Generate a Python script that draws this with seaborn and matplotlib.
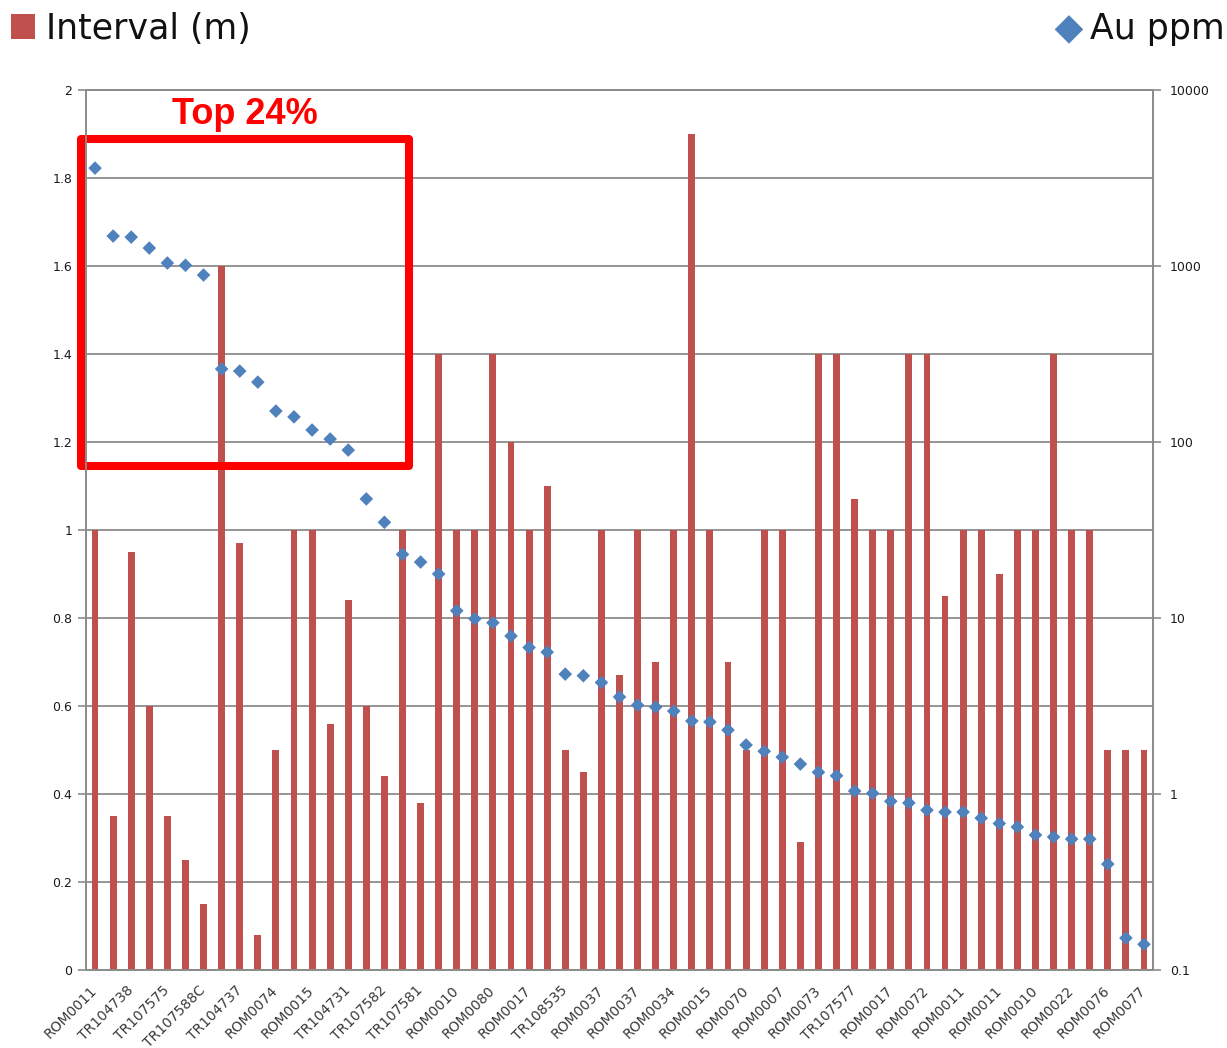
import numpy as np
import pandas as pd
import matplotlib
matplotlib.use("Agg")
import matplotlib.pyplot as plt
from matplotlib.patches import Rectangle
import seaborn as sns

# Drill intervals sorted by Au grade (every other hole ID is labelled on the axis)
tick_labels = [
    "ROM0011", "TR104738", "TR107575", "TR107588C", "TR104737", "ROM0074",
    "ROM0015", "TR104731", "TR107582", "TR107581", "ROM0010", "ROM0080",
    "ROM0017", "TR108535", "ROM0037", "ROM0037", "ROM0034", "ROM0015",
    "ROM0070", "ROM0007", "ROM0073", "TR107577", "ROM0017", "ROM0072",
    "ROM0011", "ROM0011", "ROM0010", "ROM0022", "ROM0076", "ROM0077",
]

interval_m = [
    1.0, 0.35, 0.95, 0.6, 0.35, 0.25, 0.15, 1.6, 0.97, 0.08,
    0.5, 1.0, 1.0, 0.56, 0.84, 0.6, 0.44, 1.0, 0.38, 1.4,
    1.0, 1.0, 1.4, 1.2, 1.0, 1.1, 0.5, 0.45, 1.0, 0.67,
    1.0, 0.7, 1.0, 1.9, 1.0, 0.7, 0.5, 1.0, 1.0, 0.29,
    1.4, 1.4, 1.07, 1.0, 1.0, 1.4, 1.4, 0.85, 1.0, 1.0,
    0.9, 1.0, 1.0, 1.4, 1.0, 1.0, 0.5, 0.5, 0.5,
]

au_ppm = [
    3600, 1480, 1460, 1265, 1040, 1010, 889, 260, 253, 219,
    150, 139, 117, 104, 90, 47.5, 35, 23, 20.8, 17.8,
    11, 9.9, 9.4, 7.9, 6.8, 6.4, 4.8, 4.7, 4.3, 3.56,
    3.2, 3.12, 2.96, 2.6, 2.57, 2.31, 1.9, 1.75, 1.62, 1.48,
    1.33, 1.27, 1.04, 1.01, 0.91, 0.89, 0.81, 0.79, 0.79, 0.73,
    0.68, 0.65, 0.585, 0.57, 0.555, 0.555, 0.40, 0.152, 0.14,
]

left_ticks = [0, 0.2, 0.4, 0.6, 0.8, 1.0, 1.2, 1.4, 1.6, 1.8, 2.0]
right_ticks = [0.1, 1, 10, 100, 1000, 10000]

BAR_RED = "#C0504D"
DIAMOND_BLUE = "#4F81BD"
AXIS_GREY = "#8C8C8C"

df = pd.DataFrame({
    "pos": np.arange(len(interval_m)),
    "interval": interval_m,
    "au": au_ppm,
})

sns.set_theme(style="white")
plt.rcParams["font.family"] = ["DejaVu Sans"]

fig, ax = plt.subplots(figsize=(12.27, 10.48), dpi=100)
fig.subplots_adjust(left=0.0701, right=0.9397, bottom=0.0744, top=0.9141)

# primary axis: interval length bars
sns.barplot(data=df, x="pos", y="interval", color=BAR_RED, saturation=1,
            width=0.38, linewidth=0, ax=ax)
ax.set_ylim(0, 2)
ax.set_xlim(-0.5, len(interval_m) - 0.5)
ax.set_yticks(left_ticks)
ax.set_yticklabels([f"{v:g}" for v in left_ticks])
ax.set_xticks(np.arange(0, len(interval_m), 2))
ax.set_xticklabels(tick_labels, rotation=45, ha="right", va="center",
                   rotation_mode="anchor", fontsize=10, color="#3a3a3a")
ax.set_xticks(np.arange(-0.5, len(interval_m), 1), minor=True)
ax.tick_params(axis="x", which="major", length=0, pad=13)
ax.tick_params(axis="x", which="minor", length=5, width=1.2, color=AXIS_GREY,
               bottom=True)
ax.tick_params(axis="y", length=6, width=1.2, color=AXIS_GREY, labelsize=9,
               left=True, pad=4, labelcolor="#1a1a1a")
ax.yaxis.grid(True, color=AXIS_GREY, lw=1.3)
ax.set_axisbelow(True)
ax.set_xlabel("")
ax.set_ylabel("")

# secondary axis: Au grade on log scale
ax2 = ax.twinx()
sns.scatterplot(data=df, x="pos", y="au", marker="D", s=48,
                color=DIAMOND_BLUE, edgecolor="none", ax=ax2)
ax2.set_yscale("log")
ax2.set_ylim(0.1, 10000)
ax2.set_yticks(right_ticks)
ax2.set_yticklabels([f"{v:g}" for v in right_ticks])
ax2.minorticks_off()
ax2.tick_params(axis="y", length=6, width=1.2, color=AXIS_GREY, labelsize=9,
                right=True, pad=6, labelcolor="#1a1a1a")
ax2.set_ylabel("")
ax2.set_xlim(-0.5, len(interval_m) - 0.5)

for a in (ax, ax2):
    for spine in a.spines.values():
        spine.set_color(AXIS_GREY)
        spine.set_linewidth(1.3)

# highlight box for the top-grade group
box = Rectangle((-0.77, 1.145), 18.14, 0.744, transform=ax.transData,
                fill=False, ec="#FF0000", lw=5.8, joinstyle="round",
                clip_on=False)
ax2.add_patch(box)
ax2.text(8.3, 1.945, "Top 24%", transform=ax.transData, color="#FF0000",
         fontsize=26, fontweight="bold", family=["Liberation Sans"],
         ha="center", va="center")

# legends across the top
fig.legend(handles=[ax.containers[0]], labels=["Interval (m)"],
           loc="upper left", bbox_to_anchor=(0.009, 0.989), frameon=False,
           fontsize=25, handlelength=0.7, handleheight=0.7,
           handletextpad=0.3, borderpad=0, borderaxespad=0,
           labelcolor="#111111")
fig.legend(handles=[ax2.collections[0]], labels=["Au ppm"],
           loc="upper right", bbox_to_anchor=(0.998, 0.989), frameon=False,
           fontsize=25, markerscale=2.1, handlelength=1.0, handletextpad=0.1,
           borderpad=0, borderaxespad=0, labelcolor="#111111")

fig.savefig("out.png", dpi=100)
